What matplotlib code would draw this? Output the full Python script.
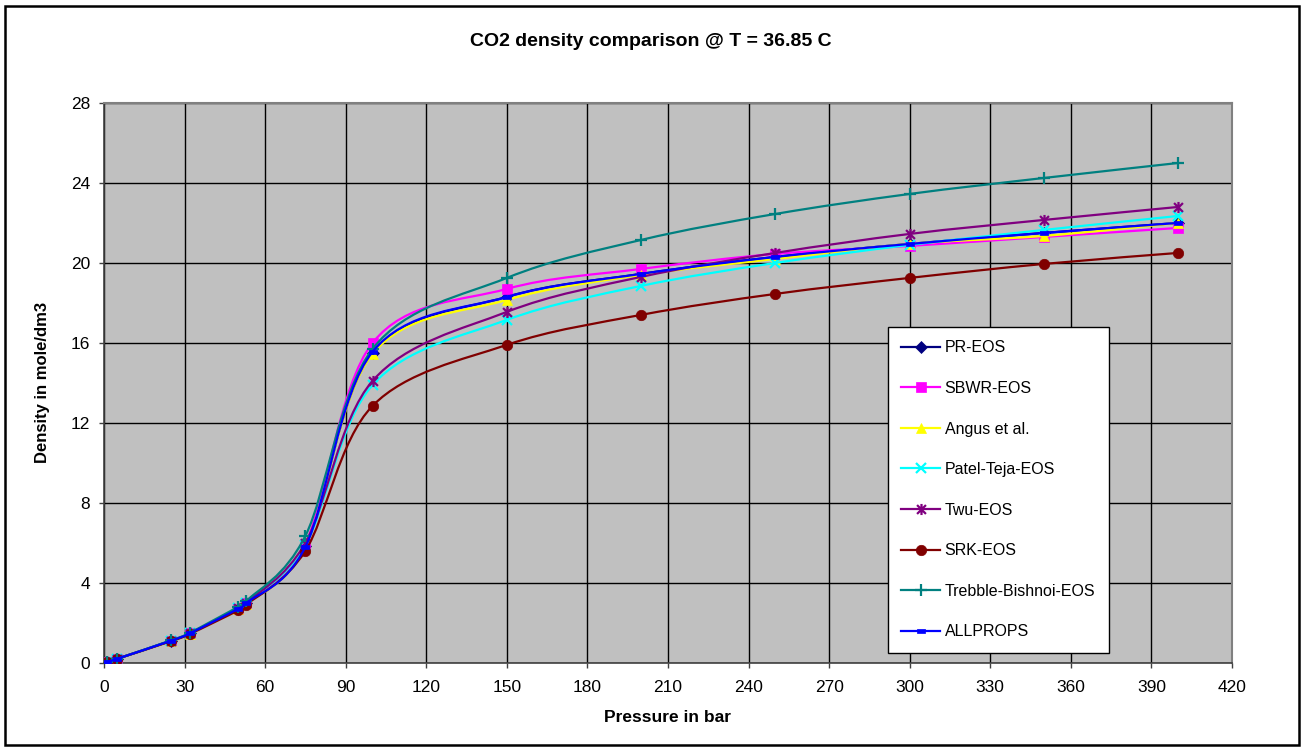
"""CO2 density comparison chart at T = 36.85 C (several equations of state)."""

import matplotlib

matplotlib.use("Agg")

import matplotlib.pyplot as plt
import numpy as np
from matplotlib.lines import Line2D
from matplotlib.patches import PathPatch, Rectangle
from matplotlib.path import Path

plt.rcParams["font.family"] = ["Liberation Sans", "DejaVu Sans"]

pressure_bar = [1, 5, 25, 32, 50, 53, 75, 100, 150, 200, 250, 300, 350, 400]

pr_eos = [0.04, 0.2, 1.1, 1.47, 2.7, 2.98, 5.85, 15.5, 18.3, 19.45, 20.3, 20.95, 21.5, 22.0]
sbwr_eos = [0.04, 0.2, 1.1, 1.47, 2.7, 2.98, 5.95, 16.0, 18.7, 19.7, 20.45, 20.85, 21.3, 21.75]
angus = [0.04, 0.2, 1.08, 1.45, 2.68, 2.95, 5.8, 15.45, 18.15, 19.4, 20.2, 20.95, 21.35, 22.0]
patel_teja_eos = [0.04, 0.2, 1.1, 1.47, 2.72, 3.0, 5.9, 13.9, 17.15, 18.85, 20.0, 20.9, 21.65, 22.35]
twu_eos = [0.04, 0.2, 1.1, 1.47, 2.72, 3.0, 6.0, 14.1, 17.55, 19.3, 20.5, 21.45, 22.15, 22.8]
srk_eos = [0.04, 0.2, 1.08, 1.44, 2.62, 2.9, 5.6, 12.85, 15.9, 17.4, 18.45, 19.25, 19.95, 20.5]
trebble_bishnoi_eos = [0.04, 0.2, 1.12, 1.5, 2.8, 3.08, 6.35, 15.7, 19.25, 21.15, 22.45, 23.45, 24.25, 25.0]
allprops = [0.04, 0.2, 1.1, 1.47, 2.7, 2.98, 5.8, 15.55, 18.3, 19.45, 20.3, 20.95, 21.5, 22.0]

x_ticks = list(range(0, 421, 30))
y_ticks = list(range(0, 29, 4))

# marcadores no estilo Excel
ASTERISK = Path(
    [(0, -1), (0, 1), (-0.8, -0.8), (0.8, 0.8), (-0.8, 0.8), (0.8, -0.8)],
    [Path.MOVETO, Path.LINETO, Path.MOVETO, Path.LINETO, Path.MOVETO, Path.LINETO],
)
DASH = Path(
    [(-1, -0.45), (1, -0.45), (1, 0.45), (-1, 0.45), (-1, -0.45)],
    [Path.MOVETO, Path.LINETO, Path.LINETO, Path.LINETO, Path.CLOSEPOLY],
)

series = [
    ("PR-EOS", pr_eos, "#000080", "D", 6.5),
    ("SBWR-EOS", sbwr_eos, "#FF00FF", "s", 7.5),
    ("Angus et al.", angus, "#FFFF00", "^", 7.5),
    ("Patel-Teja-EOS", patel_teja_eos, "#00FFFF", "x", 7.5),
    ("Twu-EOS", twu_eos, "#800080", ASTERISK, 8),
    ("SRK-EOS", srk_eos, "#800000", "o", 7.5),
    ("Trebble-Bishnoi-EOS", trebble_bishnoi_eos, "#008080", "+", 9),
    ("ALLPROPS", allprops, "#0000FF", DASH, 6),
]


def smooth_path(x_values, y_values):
    """Curva suavizada (Bezier tipo Catmull-Rom), como a linha suavizada do Excel."""

    points = np.column_stack([x_values, y_values]).astype(float)
    vertices = [points[0]]
    codes = [Path.MOVETO]
    for i in range(len(points) - 1):
        p0 = points[i - 1] if i > 0 else points[i]
        p1 = points[i]
        p2 = points[i + 1]
        p3 = points[i + 2] if i + 2 < len(points) else p2
        vertices += [p1 + (p2 - p0) / 6, p2 - (p3 - p1) / 6, p2]
        codes += [Path.CURVE4] * 3
    return Path(vertices, codes)


figure = plt.figure(figsize=(13.06, 7.49), dpi=100)
axis = figure.add_axes([104 / 1306, 1 - 662.7 / 749, 1128 / 1306, 559.7 / 749])
axis.set_facecolor("#C0C0C0")

handles = []
for index, (label, values, color, marker, size) in enumerate(series):
    z = 3 + index * 0.1
    axis.add_patch(
        PathPatch(smooth_path(pressure_bar, values), fill=False, edgecolor=color,
                  linewidth=1.6, zorder=z, capstyle="round", joinstyle="round")
    )
    edge_width = 1.6 if marker in ("x", "+") or marker is ASTERISK else 0.5
    axis.plot(pressure_bar, values, linestyle="none", marker=marker, markersize=size,
              color=color, markeredgecolor=color, markeredgewidth=edge_width, zorder=z + 0.05)
    handles.append(Line2D([], [], color=color, linewidth=1.6, marker=marker, markersize=size,
                          markeredgecolor=color, markeredgewidth=edge_width, label=label))

axis.set_xlim(0, 420)
axis.set_ylim(0, 28)
axis.set_xticks(x_ticks)
axis.set_yticks(y_ticks)
axis.grid(True, color="black", linewidth=1.0)
axis.set_axisbelow(True)
axis.tick_params(axis="x", direction="out", length=3.6, width=1, color="#404040",
                 pad=9, labelsize=12.5)
axis.tick_params(axis="y", direction="out", length=3.6, width=1, color="#404040",
                 pad=6.5, labelsize=12.5)
for side in ("top", "right"):
    axis.spines[side].set_color("#808080")
    axis.spines[side].set_linewidth(1.5)
for side in ("bottom", "left"):
    axis.spines[side].set_color("#404040")
    axis.spines[side].set_linewidth(1.2)

legend = axis.legend(
    handles=handles,
    loc="upper left",
    bbox_to_anchor=(888 / 1306, 1 - 327 / 749),
    bbox_transform=figure.transFigure,
    fontsize=11.5,
    numpoints=1,
    handlelength=2.4,
    handletextpad=0.3,
    labelspacing=1.6,
    borderpad=0.84,
    borderaxespad=0,
    fancybox=False,
    framealpha=1,
    edgecolor="black",
)
legend.get_frame().set_linewidth(1.0)
legend.set_zorder(10)

figure.text(651 / 1306, 1 - 42 / 749, "CO2 density comparison @ T = 36.85 C",
            ha="center", va="center", fontsize=14, fontweight="bold")
figure.text(668 / 1306, 1 - 717 / 749, "Pressure in bar",
            ha="center", va="center", fontsize=12.5, fontweight="bold")
figure.text(43 / 1306, 1 - 382 / 749, "Density in mole/dm3", rotation=90,
            ha="center", va="center", fontsize=12, fontweight="bold")

figure.patches.append(
    Rectangle((5 / 1306, 1 - 745 / 749), 1294 / 1306, 739 / 749, transform=figure.transFigure,
              fill=False, edgecolor="black", linewidth=1.8)
)

figure.savefig("out.png", dpi=100)
plt.close(figure)
